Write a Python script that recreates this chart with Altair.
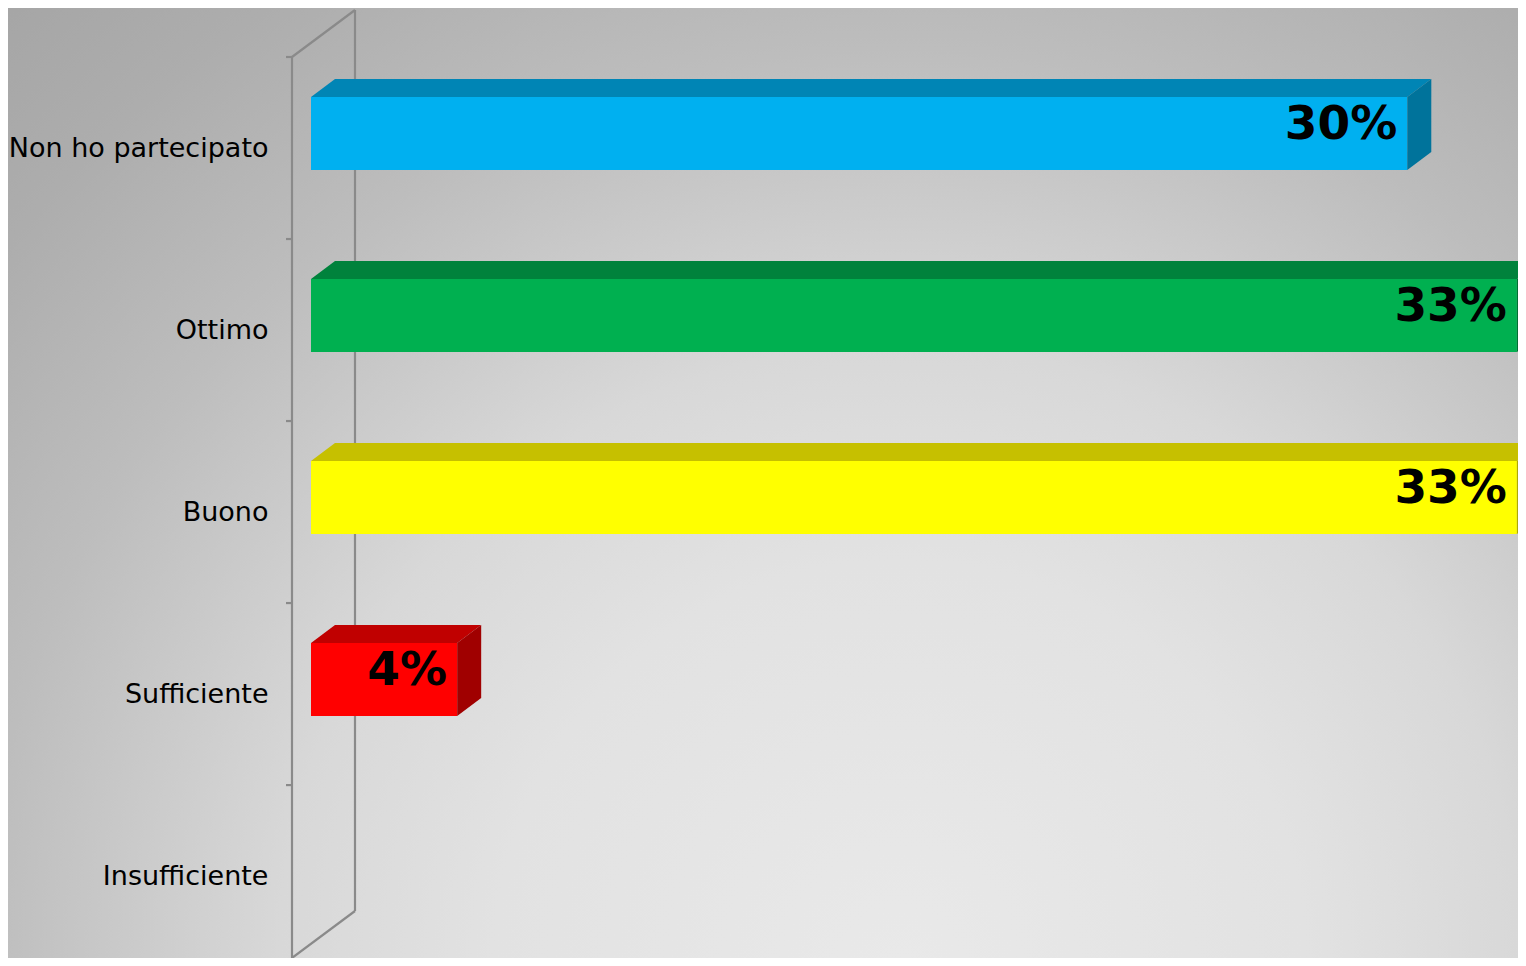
import altair as alt
import pandas as pd

# ---- data ----
categories = ["Non ho partecipato", "Ottimo", "Buono", "Sufficiente", "Insufficiente"]
values = [30, 33, 33, 4, 0]
value_labels = ["30%", "33%", "33%", "4%", ""]
front_colors = ["#00B0F0", "#00B050", "#FFFF00", "#FF0000", "#C0C0C0"]
top_colors = ["#0085B5", "#00823C", "#C6C000", "#C00000", "#A0A0A0"]
side_colors = ["#00739B", "#006F32", "#ADA800", "#A00000", "#909090"]
tick_positions = [0, 1, 2, 3, 4]

# ---- geometry (data units) ----
X_MAX = 33.03
Y_MAX = 4.95
FACE_TOP = 0.22
FACE_BOTTOM = 0.621
DEPTH_X = 0.657
DEPTH_Y = 0.099
LABEL_Y = 0.371

xs = alt.Scale(domain=[0, X_MAX], nice=False, zero=False)
ys = alt.Scale(domain=[0, Y_MAX], nice=False, zero=False, reverse=True)

label_expr = "[" + ",".join("'" + c + "'" for c in categories) + "][floor(datum.value)]"
y_axis = alt.Axis(
    values=[0.5, 1.5, 2.5, 3.5, 4.5], labelExpr=label_expr, title=None,
    ticks=False, domain=False, grid=False, labelPadding=43, labelLimit=600,
    labelFont="DejaVu Sans", labelFontSize=27, labelColor="#000000",
    labelFlush=False, labelOverlap=False, labelAlign="right", labelBaseline="middle",
    zindex=2,
)

front_rows, face_rows, text_rows = [], [], []
for i, (c, v, lab) in enumerate(zip(categories, values, value_labels)):
    if v <= 0:
        continue
    yt = i + FACE_TOP
    yb = i + FACE_BOTTOM
    front_rows.append({"cat": c, "x0": 0, "x1": v, "y0": yt, "y1": yb, "col": front_colors[i]})
    tid = f"top{i}"
    for (x, y, y2) in [(0, yt, yt), (DEPTH_X, yt, yt - DEPTH_Y), (v, yt, yt - DEPTH_Y),
                       (v + DEPTH_X, yt - DEPTH_Y, yt - DEPTH_Y)]:
        face_rows.append({"fid": tid, "x": x, "y": y, "y2": y2, "col": top_colors[i]})
    sid = f"side{i}"
    for (x, y, y2) in [(v, yb, yt), (v + DEPTH_X, yb - DEPTH_Y, yt - DEPTH_Y)]:
        face_rows.append({"fid": sid, "x": x, "y": y, "y2": y2, "col": side_colors[i]})
    text_rows.append({"x": v, "y": i + LABEL_Y, "label": lab})

front_df = pd.DataFrame(front_rows)
face_df = pd.DataFrame(face_rows)
text_df = pd.DataFrame(text_rows)
tick_df = pd.DataFrame({"y": tick_positions})
one = pd.DataFrame({"a": [0]})

WALL = "#8A8A8A"

background = alt.Chart(one).mark_rect(
    fill=alt.Gradient(
        gradient="radial",
        stops=[
            alt.GradientStop(offset=0.0, color="#E9E9E9"),
            alt.GradientStop(offset=0.3, color="#E2E2E2"),
            alt.GradientStop(offset=0.46, color="#D8D8D8"),
            alt.GradientStop(offset=0.68, color="#BDBDBD"),
            alt.GradientStop(offset=0.85, color="#ADADAD"),
            alt.GradientStop(offset=1.0, color="#A4A4A4"),
        ],
        x1=0.5, y1=0.5, r1=0, x2=0.5, y2=0.5, r2=0.5,
    )
).encode(x=alt.value(-761), x2=alt.value(1939), y=alt.value(-441), y2=alt.value(2259))

front_wall = alt.Chart(one).mark_rule(color=WALL, strokeWidth=2.2, xOffset=-19).encode(
    x=alt.X(datum=0, scale=xs, axis=None),
    y=alt.Y(datum=0, scale=ys, axis=y_axis),
    y2=alt.Y2(datum=Y_MAX),
)
back_wall = alt.Chart(one).mark_rule(
    color=WALL, strokeWidth=2.2, xOffset=44, yOffset=-47, y2Offset=-47
).encode(
    x=alt.X(datum=0, scale=xs, axis=None),
    y=alt.Y(datum=0, scale=ys, axis=y_axis),
    y2=alt.Y2(datum=Y_MAX),
)
top_diag = alt.Chart(one).mark_rule(
    color=WALL, strokeWidth=2.2, xOffset=-19, x2Offset=44, y2Offset=-47
).encode(
    x=alt.X(datum=0, scale=xs, axis=None),
    x2=alt.X2(datum=0),
    y=alt.Y(datum=0, scale=ys, axis=y_axis),
    y2=alt.Y2(datum=0),
)
bottom_diag = alt.Chart(one).mark_rule(
    color=WALL, strokeWidth=2.2, xOffset=-19, x2Offset=44, y2Offset=-47
).encode(
    x=alt.X(datum=0, scale=xs, axis=None),
    x2=alt.X2(datum=0),
    y=alt.Y(datum=Y_MAX, scale=ys, axis=y_axis),
    y2=alt.Y2(datum=Y_MAX),
)
ticks = alt.Chart(tick_df).mark_rule(
    color=WALL, strokeWidth=2.2, xOffset=-25, x2Offset=-19
).encode(
    x=alt.X(datum=0, scale=xs, axis=None),
    x2=alt.X2(datum=0),
    y=alt.Y("y:Q", scale=ys, axis=y_axis),
)

front = alt.Chart(front_df).mark_rect().encode(
    x=alt.X("x0:Q", scale=xs, axis=None),
    x2="x1:Q",
    y=alt.Y("y0:Q", scale=ys, axis=y_axis),
    y2="y1:Q",
    color=alt.Color("col:N", scale=None),
)

faces = alt.Chart(face_df).mark_area(orient="vertical").encode(
    x=alt.X("x:Q", scale=xs, axis=None),
    y=alt.Y("y:Q", scale=ys, axis=y_axis, stack=None),
    y2="y2:Q",
    color=alt.Color("col:N", scale=None),
    detail="fid:N",
)

texts = alt.Chart(text_df).mark_text(
    align="right", baseline="middle", dx=-10, font="DejaVu Sans", fontSize=47,
    fontWeight="bold", color="#000000",
).encode(
    x=alt.X("x:Q", scale=xs, axis=None),
    y=alt.Y("y:Q", scale=ys, axis=y_axis),
    text="label:N",
)

chart = alt.layer(
    background, front_wall, back_wall, top_diag, bottom_diag, ticks, front, faces, texts
).properties(
    width=1207,
    height=901,
    padding={"left": 303, "top": 49, "right": 0, "bottom": 0},
    autosize=alt.AutoSizeParams(type="none"),
    background="#B8B8B8",
).configure_view(stroke=None)

chart.save("out.html", embed_options={"renderer": "svg", "actions": False})
